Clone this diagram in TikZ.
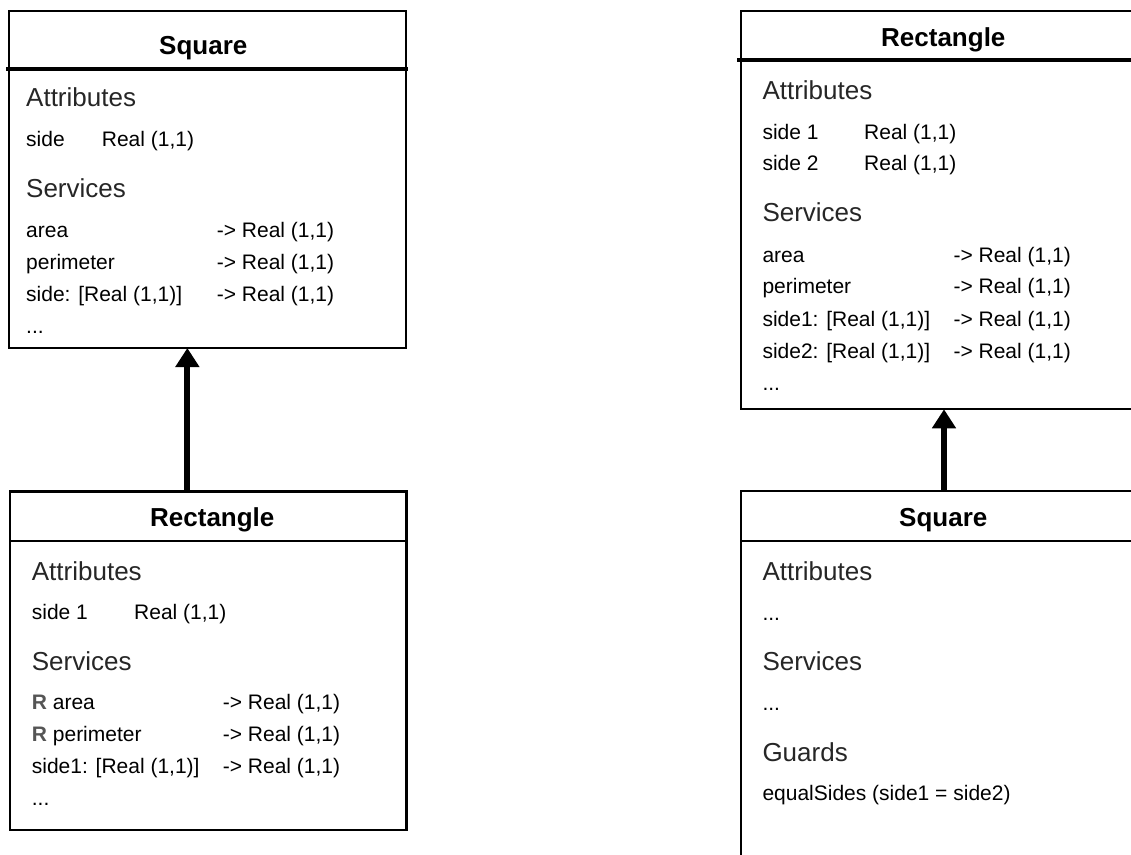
\documentclass[tikz,border=0pt]{standalone}
\usepackage{fontspec}
\setmainfont{Liberation Sans}
\usetikzlibrary{arrows.meta}
\definecolor{secgray}{HTML}{262626}
\definecolor{redefgray}{HTML}{555555}
\begin{document}
\begin{tikzpicture}[x=1pt,y=-1pt,
  umlbox/.style={draw, line width=2pt, rectangle, inner sep=0pt, outer sep=0pt, anchor=north west},
  thickrule/.style={line width=4.7pt},
  thinrule/.style={line width=2.5pt},
  ttl/.style={font=\bfseries\fontsize{26}{30}\selectfont, anchor=base, inner sep=0pt},
  sec/.style={font=\fontsize{26}{30}\selectfont, text=secgray, anchor=base west, inner sep=0pt},
  itm/.style={font=\fontsize{21}{25}\selectfont, anchor=base west, inner sep=0pt},
  inherit/.style={line width=6pt, -{Triangle[width=23pt,length=19pt]}}]
\useasboundingbox (0,0) rectangle (1131,854);

% ---------- left: Square (superclass) ----------
\node[umlbox, minimum width=396.6pt, minimum height=337pt] (sqL) at (9,11) {};
\draw[thickrule] (6,69) -- (408,69);
\node[ttl] (sqLt) at (203.3,54) {Square};
\node[sec] (sqLa) at (26,106.7) {Attributes};
\node[itm] (sqLa1) at (26,146) {side};
\node[itm] (sqLa1t) at (101.7,146) {Real (1,1)};
\node[sec] (sqLs) at (26,197) {Services};
\node[itm] (sqLs1) at (26,237) {area};
\node[itm] (sqLs1t) at (216.7,237) {-> Real (1,1)};
\node[itm] (sqLs2) at (26,269) {perimeter};
\node[itm] (sqLs2t) at (216.7,269) {-> Real (1,1)};
\node[itm] (sqLs3) at (26,301) {side: [Real (1,1)]};
\node[itm] (sqLs3t) at (216.7,301) {-> Real (1,1)};
\node[itm] (sqLs4) at (26,333) {...};

% ---------- left: Rectangle (subclass) ----------
\node[umlbox, line width=2.5pt, minimum width=396.7pt, minimum height=338.3pt] (rcL) at (10,491.7) {};
\draw[thinrule] (10,541) -- (406.7,541);
\node[ttl] (rcLt) at (212.3,526.7) {Rectangle};
\node[sec] (rcLa) at (31.7,580.7) {Attributes};
\node[itm] (rcLa1) at (31.7,619.3) {side 1};
\node[itm] (rcLa1t) at (134,619.3) {Real (1,1)};
\node[sec] (rcLs) at (31.7,670) {Services};
\node[itm] (rcLs1) at (31.7,709.3) {\textbf{\textcolor{redefgray}{R}} area};
\node[itm] (rcLs1t) at (222.7,709.3) {-> Real (1,1)};
\node[itm] (rcLs2) at (31.7,741.7) {\textbf{\textcolor{redefgray}{R}} perimeter};
\node[itm] (rcLs2t) at (222.7,741.7) {-> Real (1,1)};
\node[itm] (rcLs3) at (31.7,773.3) {side1: [Real (1,1)]};
\node[itm] (rcLs3t) at (222.7,773.3) {-> Real (1,1)};
\node[itm] (rcLs4) at (31.7,805) {...};

\draw[inherit] ([xshift=-21pt]rcL.north) -- ([xshift=-21pt]rcL.north |- sqL.south);

% ---------- right: Rectangle (superclass) ----------
\node[umlbox, minimum width=404pt, minimum height=398.3pt] (rcR) at (741,11) {};
\draw[thickrule] (737,60) -- (1150,60);
\node[ttl] (rcRt) at (943.3,46.7) {Rectangle};
\node[sec] (rcRa) at (762.3,99.3) {Attributes};
\node[itm] (rcRa1) at (762.3,139.3) {side 1};
\node[itm] (rcRa1t) at (864,139.3) {Real (1,1)};
\node[itm] (rcRa2) at (762.3,170.7) {side 2};
\node[itm] (rcRa2t) at (864,170.7) {Real (1,1)};
\node[sec] (rcRs) at (762.3,221.7) {Services};
\node[itm] (rcRs1) at (762.3,262.3) {area};
\node[itm] (rcRs1t) at (953.3,262.3) {-> Real (1,1)};
\node[itm] (rcRs2) at (762.3,293.3) {perimeter};
\node[itm] (rcRs2t) at (953.3,293.3) {-> Real (1,1)};
\node[itm] (rcRs3) at (762.3,326) {side1: [Real (1,1)]};
\node[itm] (rcRs3t) at (953.3,326) {-> Real (1,1)};
\node[itm] (rcRs4) at (762.3,358.3) {side2: [Real (1,1)]};
\node[itm] (rcRs4t) at (953.3,358.3) {-> Real (1,1)};
\node[itm] (rcRs5) at (762.3,390) {...};

% ---------- right: Square (subclass) ----------
\node[umlbox, minimum width=404pt, minimum height=420pt] (sqR) at (741,491) {};
\draw[thinrule] (741,541) -- (1150,541);
\node[ttl] (sqRt) at (943.3,526.7) {Square};
\node[sec] (sqRa) at (762.3,580) {Attributes};
\node[itm] (sqRa1) at (762.3,620) {...};
\node[sec] (sqRs) at (762.3,670) {Services};
\node[itm] (sqRs1) at (762.3,710) {...};
\node[sec] (sqRg) at (762.3,761.7) {Guards};
\node[itm] (sqRg1) at (762.3,800) {equalSides (side1 = side2)};

\draw[inherit] ([xshift=1pt]sqR.north) -- ([xshift=1pt]sqR.north |- rcR.south);
\end{tikzpicture}
\end{document}
